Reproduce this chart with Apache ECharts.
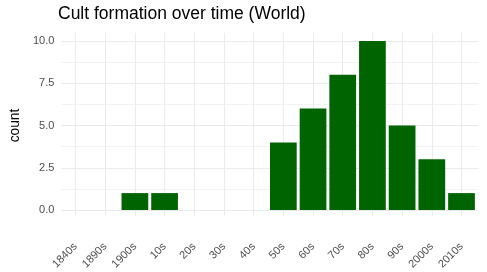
<!DOCTYPE html>
<html>
<head>
<meta charset="utf-8">
<script src="https://cdn.jsdelivr.net/npm/echarts@6/dist/echarts.min.js"></script>
<style>html,body{margin:0;padding:0;background:#fff;}#c{width:487px;height:272px;}</style>
</head>
<body>
<div id="c"></div>
<script>
const categories = ['1840s','1890s','1900s','10s','20s','30s','40s','50s','60s','70s','80s','90s','2000s','2010s'];
const counts = [0,0,1,1,0,0,0,4,6,8,10,5,3,1];
const yTicks = [0, 2.5, 5, 7.5, 10];

const FONT = '"Liberation Sans", Arial, sans-serif';
const chart = echarts.init(document.getElementById('c'), null, {renderer: 'canvas'});
const c0 = 75.5, c13 = 461.5, step = (c13 - c0) / 13;
const W = 487, H = 272;
const panelTop = 32.7, panelBottom = 218, y10 = 41, y0 = 210;
const panelLeft = 57.5, panelRight = 478.5;

chart.setOption({
  animation: false,
  backgroundColor: '#ffffff',
  title: {
    text: 'Cult formation over time (World)',
    left: 58, top: 5, padding: 0,
    textStyle: {fontFamily: FONT, fontSize: 17.5, fontWeight: 'normal', color: '#000000'}
  },
  grid: [
    {left: c0, right: W - c13, top: panelTop, bottom: H - panelBottom},
    {left: panelLeft, right: W - panelRight, top: y10, bottom: H - y0},
    {left: c0 - step / 2, right: W - (c13 + step / 2), top: y10, bottom: H - y0}
  ],
  xAxis: [
    {
      gridIndex: 0, type: 'category', data: categories, boundaryGap: false,
      axisLine: {show: false}, axisTick: {show: false},
      splitLine: {show: true, lineStyle: {color: '#EBEBEB', width: 1}},
      axisLabel: {rotate: 45, margin: 29, color: '#4D4D4D', fontFamily: FONT, fontSize: 11, interval: 0}
    },
    {gridIndex: 1, type: 'value', min: 0, max: 1, show: false},
    {gridIndex: 2, type: 'category', data: categories, show: false}
  ],
  yAxis: [
    {gridIndex: 0, type: 'value', min: 0, max: 1, show: false},
    {
      gridIndex: 1, type: 'value', min: 0, max: 10, interval: 2.5,
      name: 'count', nameLocation: 'middle', nameGap: 33,
      nameTextStyle: {fontFamily: FONT, fontSize: 13.75, color: '#000000'},
      axisLine: {show: false}, axisTick: {show: false},
      axisLabel: {margin: 7, color: '#4D4D4D', fontFamily: FONT, fontSize: 11,
        formatter: v => v.toFixed(1)},
      splitLine: {show: true, lineStyle: {color: '#EBEBEB', width: 1}},
      minorTick: {show: false, splitNumber: 2},
      minorSplitLine: {show: true, lineStyle: {color: '#F2F2F2', width: 1}}
    },
    {gridIndex: 2, type: 'value', min: 0, max: 10, show: false}
  ],
  series: [{
    type: 'bar', xAxisIndex: 2, yAxisIndex: 2,
    data: counts, barCategoryGap: '10%',
    itemStyle: {color: '#006400'}
  }]
});
</script>
</body>
</html>
